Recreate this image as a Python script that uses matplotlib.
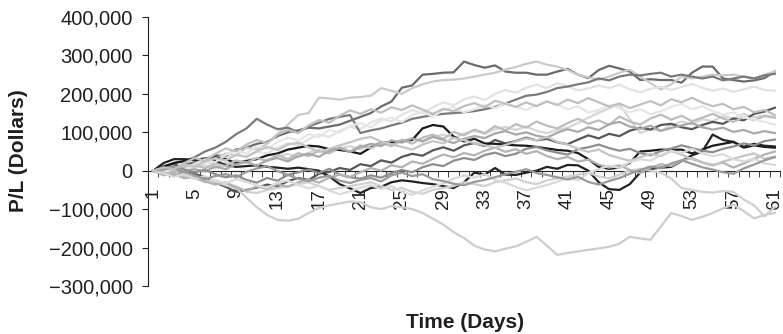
import matplotlib
matplotlib.use("Agg")
import matplotlib.pyplot as plt
from matplotlib.ticker import FuncFormatter, MultipleLocator

plt.rcParams['font.family'] = ['Liberation Sans', 'DejaVu Sans']

# Simulated P/L paths (thousands of dollars), day 1 .. 61
days = list(range(1, 62))

path_01 = [0, 8, 5, 15, 22, 30, 40, 38, 55, 60,
           70, 75, 90, 100, 105, 112, 110, 115, 120, 130,
           140, 150, 167, 180, 216, 222, 250, 252, 255, 256,
           284, 275, 268, 274, 258, 255, 255, 250, 250, 258,
           265, 250, 241, 262, 273, 266, 258, 236, 238, 236,
           236, 229, 255, 271, 271, 240, 236, 232, 235, 241,
           258]
path_02 = [0, -5, 5, 10, 15, 25, 30, 45, 40, 60,
           55, 70, 95, 120, 145, 150, 190, 188, 185, 190,
           192, 195, 215, 208, 200, 215, 225, 232, 236, 237,
           240, 245, 250, 255, 263, 270, 278, 284, 276, 271,
           262, 250, 243, 237, 245, 255, 263, 245, 228, 211,
           225, 245, 240, 245, 250, 248, 250, 245, 240, 250,
           258]
path_03 = [0, 8, 3, 14, 10, 22, 18, 30, 42, 37,
           50, 45, 60, 72, 66, 82, 95, 88, 104, 115,
           108, 125, 136, 128, 146, 158, 150, 165, 178, 170,
           186, 193, 184, 200, 210, 203, 216, 224, 215, 228,
           220, 209, 214, 222, 215, 224, 212, 204, 213, 219,
           210, 218, 226, 216, 208, 214, 205, 212, 219, 210,
           208]
path_04 = [0, 10, 20, 25, 35, 50, 60, 75, 95, 110,
           135, 120, 108, 112, 100, 115, 125, 135, 140, 145,
           98, 105, 110, 118, 125, 135, 140, 145, 148, 150,
           152, 155, 160, 166, 175, 185, 195, 198, 205, 215,
           219, 225, 230, 240, 235, 245, 250, 248, 252, 255,
           245, 250, 245, 240, 245, 235, 240, 245, 240, 248,
           252]
path_05 = [0, -6, 4, -3, 9, 14, 6, 21, 16, 28,
           33, 25, 38, 44, 35, 47, 55, 46, 58, 64,
           55, 67, 73, 65, 78, 84, 75, 88, 94, 85,
           97, 104, 96, 108, 114, 106, 115, 104, 98, 106,
           112, 124, 138, 151, 162, 172, 134, 98, 108, 103,
           119, 128, 122, 134, 129, 142, 136, 148, 139, 144,
           140]
path_06 = [0, 12, 18, 4, -8, -17, -31, -42, -55, -50,
           -44, -36, -41, -27, -19, -24, -8, -3, 7, 2,
           17, 12, 27, 21, 36, 44, 39, 53, 61, 52,
           66, 72, 64, 80, 71, 77, 86, 79, 83, 74,
           69, 81, 92, 84, 96, 90, 104, 112, 107, 119,
           122, 113, 108, 119, 127, 122, 136, 131, 148, 154,
           164]
path_07 = [0, 10, 20, 25, 30, 25, 35, 30, 20, 25,
           30, 40, 45, 55, 60, 65, 63, 56, 54, 50,
           44, 60, 72, 74, 76, 80, 110, 119, 115, 89,
           76, 83, 71, 70, 68, 66, 65, 62, 58, 54,
           52, 46, 30, 10, 5, 8, 20, 50, 52, 55,
           54, 55, 45, 55, 65, 70, 75, 60, 66, 62,
           60]
path_08 = [0, 20, 30, 30, 28, 32, 25, 15, 10, 12,
           14, 10, 8, 5, 8, 4, 0, -15, -35, -46,
           -58, -45, -42, -30, -25, -28, -32, -35, -40, -45,
           -30, -5, -10, 7, -10, -11, -5, 0, 10, 5,
           15, 14, 0, -30, -48, -50, -35, -5, 5, 8,
           10, 25, 40, 50, 94, 80, 75, 62, 70, 65,
           63]
path_09 = [0, -5, -10, -15, -20, -25, -30, -38, -45, -70,
           -95, -115, -128, -130, -125, -110, -97, -90, -85, -80,
           -82, -95, -100, -92, -95, -100, -110, -125, -140, -160,
           -175, -195, -205, -210, -203, -197, -185, -172, -195, -219,
           -214, -210, -206, -202, -198, -190, -172, -176, -180, -145,
           -110, -118, -128, -120, -110, -98, -88, -105, -124, -115,
           -110]
path_10 = [0, -10, -5, -15, -20, -30, -25, -35, -40, -55,
           -58, -50, -45, -40, -35, -30, -40, -50, -45, -40,
           -35, -30, -40, -50, -45, -55, -60, -50, -45, -40,
           -30, -35, -40, -30, -25, -20, -30, -35, -25, -20,
           -15, -10, -5, -15, -20, -10, 0, 5, 0, -5,
           -20, -45, -50, -55, -57, -53, -55, -75, -90, -119,
           -95]
path_11 = [0, 6, -4, 9, 16, 6, 19, 12, 27, 21,
           33, 26, 41, 30, 46, 38, 52, 45, 61, 50,
           66, 58, 72, 64, 81, 70, 86, 94, 83, 101,
           92, 107, 98, 116, 105, 121, 112, 128, 117, 110,
           124, 135, 122, 131, 119, 141, 128, 120, 136, 146,
           133, 143, 129, 138, 148, 136, 127, 140, 131, 142,
           138]
path_12 = [0, -6, 8, 2, 18, 30, 22, 41, 52, 45,
           63, 57, 75, 86, 78, 95, 88, 106, 99, 116,
           124, 113, 131, 138, 127, 145, 153, 141, 158, 165,
           152, 160, 171, 163, 176, 166, 158, 170, 181, 172,
           160, 168, 151, 158, 170, 163, 152, 160, 147, 155,
           166, 174, 160, 168, 155, 146, 152, 139, 133, 127,
           120]
path_13 = [0, -6, -12, -3, 4, -2, 11, 4, 17, 23,
           13, 27, 33, 24, 38, 44, 36, 52, 58, 49,
           61, 70, 64, 79, 73, 84, 77, 88, 80, 72,
           83, 90, 85, 97, 103, 94, 100, 91, 86, 99,
           108, 101, 113, 106, 121, 127, 115, 109, 117, 104,
           111, 118, 124, 113, 107, 112, 101, 106, 97, 103,
           98]
path_14 = [0, 6, 12, 3, -4, 2, -9, -17, -12, -24,
           -31, -19, -26, -11, -4, 3, -6, 5, -10, -17,
           -21, -12, -18, -6, 2, -4, 9, 17, 12, 26,
           33, 28, 41, 47, 38, 44, 57, 62, 53, 47,
           42, 56, 61, 68, 59, 52, 57, 46, 40, 51,
           58, 66, 59, 52, 48, 57, 63, 71, 66, 77,
           81]
path_15 = [0, -12, -5, -20, -14, -28, -36, -30, -44, -52,
           -41, -47, -35, -42, -30, -22, -31, -18, -10, -16,
           -4, 7, 0, 14, 9, 24, 18, 31, 42, 35,
           46, 40, 52, 60, 49, 56, 44, 51, 38, 30,
           36, 24, 29, 16, 8, 14, 2, -6, 8, 17,
           12, 26, 33, 22, 15, 21, 8, 19, 31, 42,
           50]
path_16 = [0, 7, 2, 16, 10, 24, 33, 27, 41, 36,
           50, 62, 54, 68, 73, 61, 49, 57, 66, 74,
           83, 88, 76, 69, 62, 55, 68, 77, 71, 86,
           79, 72, 66, 60, 67, 76, 84, 79, 88, 75,
           68, 57, 49, 55, 41, 33, 26, 35, 44, 38,
           51, 42, 30, 21, 13, 24, 31, 39, 45, 31,
           37]
path_17 = [0, -7, -16, -9, -21, -14, -27, -33, -22, -29,
           -38, -44, -31, -26, -37, -46, -39, -52, -61, -54,
           -44, -38, -47, -40, -55, -63, -51, -42, -33, -21,
           -12, -18, -9, -24, -31, -42, -51, -44, -37, -29,
           -18, -25, -6, 4, 13, 7, 22, 30, 26, 41,
           52, 46, 57, 45, 38, 43, 30, 24, 31, 19,
           15]
path_18 = [0, 3, 8, -4, -12, -22, -14, -9, -17, -3,
           6, 12, -1, -11, -21, -27, -18, -13, -26, -32,
           -24, -19, -28, -12, -5, -14, -9, -22, -27, -34,
           -38, -29, -24, -17, -9, -3, 4, -6, -11, -17,
           -23, -16, -29, -36, -27, -19, -8, 2, 11, 6,
           19, 27, 18, 9, 3, -4, -8, 6, 16, 27,
           35]
path_19 = [0, 9, 4, 20, 33, 26, 44, 58, 50, 68,
           80, 72, 94, 106, 98, 118, 132, 125, 143, 157,
           148, 160, 151, 165, 158, 170, 159, 148, 161, 155,
           168, 176, 165, 182, 174, 166, 178, 168, 180, 171,
           185, 176, 189, 178, 167, 175, 163, 172, 181, 170,
           186, 178, 190, 177, 168, 174, 160, 166, 152, 158,
           145]

paths = [path_01, path_02, path_03, path_04, path_05, path_06, path_07,
         path_08, path_09, path_10, path_11, path_12, path_13, path_14,
         path_15, path_16, path_17, path_18, path_19]
colors = ['#6b6b6b', '#cacaca', '#e2e2e2', '#7a7a7a', '#d6d6d6', '#575757',
          '#1a1a1a', '#222222', '#cdcdcd', '#d0d0d0', '#bdbdbd', '#e6e6e6',
          '#a8a8a8', '#8e8e8e', '#b3b3b3', '#c4c4c4', '#dadada', '#9a9a9a',
          '#c0c0c0']

for i, p in enumerate(paths):
    if len(p) != len(days):
        raise ValueError(f"path {i + 1} has {len(p)} values")

ink = '#231f20'

fig = plt.figure(figsize=(7.83, 3.34), dpi=100)
# plot box: left spine at x=148px, 400,000 at y=17px, -300,000 at y=286px
ax = fig.add_axes([148 / 783, 1 - 286 / 334, 632 / 783, 269 / 334])

for p, c in zip(paths, colors):
    ax.plot(days, [v * 1000 for v in p], color=c, lw=1.6)

# categories sit between tick marks, like a spreadsheet chart
ax.set_xlim(0.5, 61.5)
ax.set_ylim(-300000, 400000)

# the paths are drawn over the zero axis and its labels
ax.set_axisbelow(True)
ax.spines['top'].set_visible(False)
ax.spines['right'].set_visible(False)
ax.spines['bottom'].set_position(('data', 0))
ax.spines['bottom'].set_zorder(0.5)
ax.spines['left'].set_color(ink)
ax.spines['bottom'].set_color(ink)

ax.yaxis.set_major_locator(MultipleLocator(100000))
ax.yaxis.set_major_formatter(FuncFormatter(lambda v, pos: f"{v:,.0f}".replace("-", "\u2212")))
ax.tick_params(axis='y', direction='out', length=4, labelsize=14.5, colors=ink, pad=7)

# labels every 4th day, tick marks between every day
ax.set_xticks(days[::4])
ax.set_xticks([d - 0.5 for d in days] + [61.5], minor=True)
ax.tick_params(axis='x', which='major', length=0, labelsize=13.5,
               colors=ink, labelrotation=90, pad=12.5)
ax.tick_params(axis='x', which='minor', direction='out', length=4.3, colors=ink)

fig.text(19 / 783, 1 - 151 / 334, 'P/L (Dollars)', rotation=90, fontsize=15,
         fontweight='bold', ha='center', va='center', color=ink)
fig.text(465 / 783, 1 - 322 / 334, 'Time (Days)', fontsize=15, fontweight='bold',
         ha='center', va='center', color=ink)

fig.savefig('out.png', dpi=100)
